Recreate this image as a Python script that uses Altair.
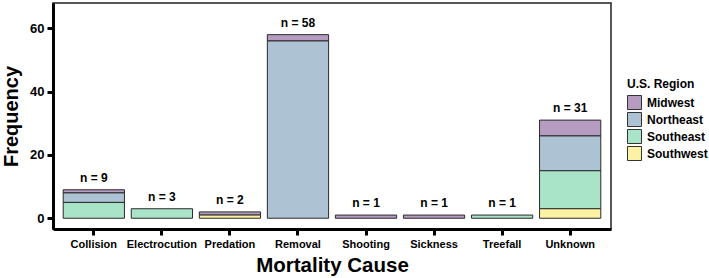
import altair as alt
import pandas as pd

# Mortality causes and counts by U.S. region
causes = ["Collision", "Electrocution", "Predation", "Removal",
          "Shooting", "Sickness", "Treefall", "Unknown"]
regions = ["Midwest", "Northeast", "Southeast", "Southwest"]
midwest = [1, 0, 1, 2, 1, 1, 0, 5]
northeast = [3, 0, 0, 56, 0, 0, 0, 11]
southeast = [5, 3, 0, 0, 0, 0, 1, 12]
southwest = [0, 0, 1, 0, 0, 0, 0, 3]
region_colors = ["#B79CC2", "#ADC3D4", "#A9E3C8", "#FCF2A4"]
# stacking order, bottom to top
stack_rank = {"Southwest": 0, "Southeast": 1, "Northeast": 2, "Midwest": 3}

rows = []
for series, name in zip([midwest, northeast, southeast, southwest], regions):
    for cause, v in zip(causes, series):
        if v > 0:
            rows.append({"cause": cause, "region": name, "count": v,
                         "rank": stack_rank[name]})
df = pd.DataFrame(rows)

totals = [m + n + s + w for m, n, s, w in zip(midwest, northeast, southeast, southwest)]
tot_df = pd.DataFrame({"cause": causes, "total": totals,
                       "label": [f"n = {t}" for t in totals]})

FONT = "Liberation Sans"

x_enc = alt.X(
    "cause:N", sort=causes,
    scale=alt.Scale(paddingInner=0.1, paddingOuter=0.15),
    axis=alt.Axis(title="Mortality Cause", labelAngle=0, titleY=42,
                  titleBaseline="alphabetic", titleFontSize=20.5,
                  labelFontSize=11, labelPadding=3, tickSize=6),
)
y_scale = alt.Scale(domain=[-3.4, 68], nice=False, zero=False)

bars = alt.Chart(df).mark_bar(stroke="#2b2b2b", strokeWidth=1, opacity=1).encode(
    x=x_enc,
    y=alt.Y("count:Q", stack="zero", scale=y_scale,
            axis=alt.Axis(title="Frequency", values=[0, 20, 40, 60],
                          grid=False, titleFontSize=20, labelFontSize=13,
                          labelPadding=3, tickSize=6, titleX=-36,
                          titleBaseline="alphabetic")),
    color=alt.Color("region:N", scale=alt.Scale(domain=regions, range=region_colors),
                    legend=alt.Legend(title="U.S. Region", orient="none",
                                      legendX=574, legendY=76)),
    order=alt.Order("rank:Q", sort="ascending"),
)

labels = alt.Chart(tot_df).mark_text(
    font=FONT, fontWeight="bold", fontSize=12, color="black",
    baseline="alphabetic", dy=-8,
).encode(
    x=alt.X("cause:N", sort=causes),
    y=alt.Y("total:Q", scale=y_scale),
    text="label:N",
)

chart = alt.layer(bars, labels).properties(
    width=558, height=226,
    autosize=alt.AutoSizeParams(type="none"),
    padding={"left": 53, "top": 3, "right": 98, "bottom": 49},
).configure_view(
    stroke="#222222", strokeWidth=1.5,
).configure_axis(
    labelFont=FONT, titleFont=FONT, labelFontWeight="bold",
    titleFontWeight="bold", labelColor="black", titleColor="black",
    domainColor="black", domainWidth=3, tickColor="black", tickWidth=3,
).configure_legend(
    titleFont=FONT, labelFont=FONT, titleFontSize=12, labelFontSize=12,
    titleFontWeight="bold", labelFontWeight="bold", titleColor="black",
    labelColor="black", symbolType="square", symbolSize=196,
    symbolStrokeColor="#333333", symbolStrokeWidth=1, rowPadding=-5,
    titlePadding=4, labelOffset=5,
)

chart.save("out.html", embed_options={"renderer": "svg", "actions": False})
